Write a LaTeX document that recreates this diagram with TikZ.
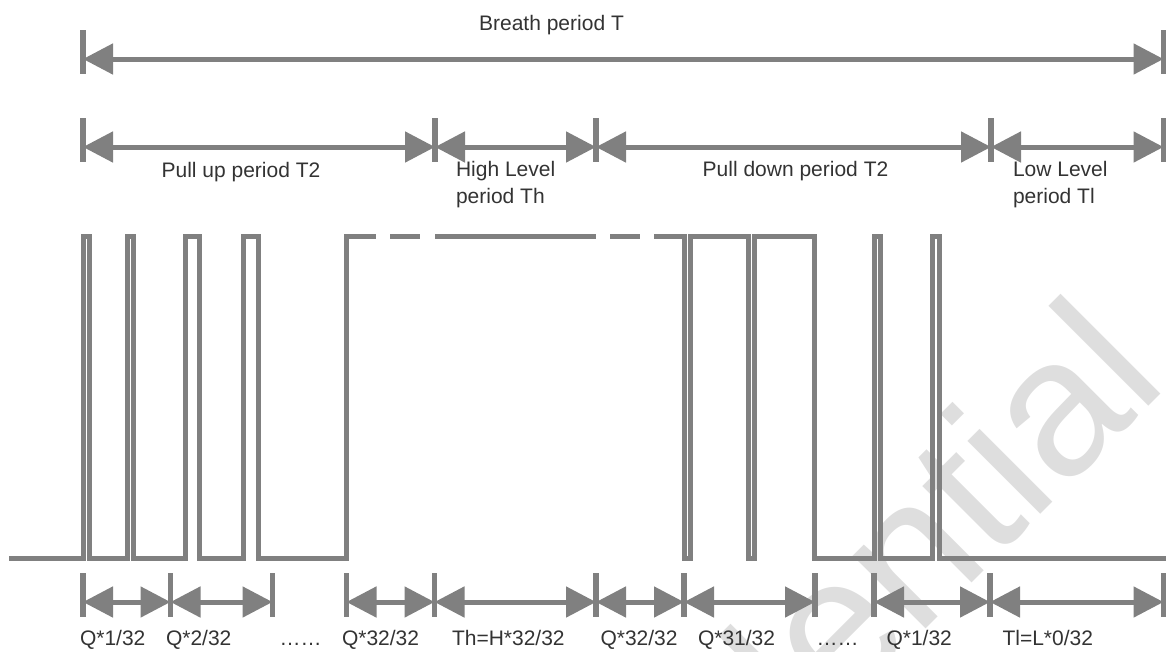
\documentclass[tikz,border=0pt]{standalone}
\usepackage{fontspec}
\setmainfont{Liberation Sans}
\usetikzlibrary{arrows.meta}
\definecolor{wave}{HTML}{808080}
\definecolor{txt}{HTML}{333333}
\definecolor{wm}{HTML}{DEDEDE}
\newcommand\dimtick[1]{\draw[tickline] ([yshift=29pt]#1) -- ([yshift=-15pt]#1);}
\begin{document}
\begin{tikzpicture}[x=1pt,y=-1pt,
  dimline/.style={draw=wave, line width=5pt,
    {Triangle[length=30pt,width=30pt]}-{Triangle[length=30pt,width=30pt]}},
  tickline/.style={draw=wave, line width=5.5pt},
  waveline/.style={draw=wave, line width=5pt, line join=miter},
  lbl/.style={text=txt, font=\fontsize{21}{27}\selectfont, inner sep=0pt, outer sep=0pt},
  wmtext/.style={text=wm, font=\fontsize{195}{200}\selectfont, inner sep=0pt, outer sep=0pt}]
\useasboundingbox (0,0) rectangle (1166,651);
% watermark
\begin{scope}
\clip (0,0) rectangle (1166,651);
\node[wmtext, rotate=45, anchor=base east] (wm) at (1170,385) {Confidential};
\end{scope}
% waveform
\draw[waveline] (9,558) -- (83.5,558) -- (83.5,236) -- (89.5,236) -- (89.5,558)
  -- (127,558) -- (127,236) -- (133.5,236) -- (133.5,558)
  -- (185.5,558) -- (185.5,236) -- (199.5,236) -- (199.5,558)
  -- (243.5,558) -- (243.5,236) -- (258.5,236) -- (258.5,558)
  -- (346.5,558) -- (346.5,236) -- (376,236)
  (390,236) -- (420,236)
  (435,236) -- (596,236)
  (610,236) -- (639.5,236)
  (654,236) -- (684.5,236) -- (684.5,558) -- (690,558) -- (690,236)
  -- (748.5,236) -- (748.5,558) -- (754.5,558) -- (754.5,236)
  -- (814.5,236) -- (814.5,558) -- (874,558) -- (874,236) -- (880,236) -- (880,558)
  -- (932.5,558) -- (932.5,236) -- (939.5,236) -- (939.5,558) -- (1166,558);
% row 1
\coordinate (r1a) at (83,59);
\coordinate (r1b) at (1163.5,59);
% row 2
\coordinate (r2a) at (83,147);
\coordinate (r2b) at (435,147);
\coordinate (r2c) at (596,147);
\coordinate (r2d) at (991,147);
\coordinate (r2e) at (1163.5,147);
% row 3
\coordinate (r3a) at (83,602);
\coordinate (r3b) at (170.5,602);
\coordinate (r3c) at (272.5,602);
\coordinate (r3d) at (346.5,602);
\coordinate (r3e) at (434.5,602);
\coordinate (r3f) at (596,602);
\coordinate (r3g) at (684,602);
\coordinate (r3h) at (815,602);
\coordinate (r3i) at (874,602);
\coordinate (r3j) at (990,602);
\coordinate (r3k) at (1163.5,602);
\foreach \c in {r1a,r1b,r2a,r2b,r2c,r2d,r2e,r3a,r3b,r3c,r3d,r3e,r3f,r3g,r3h,r3i,r3j,r3k}{\dimtick{\c}}
\draw[dimline] (r1a) -- (r1b);
\draw[dimline] (r2a) -- (r2b);
\draw[dimline] (r2b) -- (r2c);
\draw[dimline] (r2c) -- (r2d);
\draw[dimline] (r2d) -- (r2e);
\draw[dimline] (r3a) -- (r3b);
\draw[dimline] (r3b) -- (r3c);
\draw[dimline] (r3d) -- (r3e);
\draw[dimline] (r3e) -- (r3f);
\draw[dimline] (r3f) -- (r3g);
\draw[dimline] (r3g) -- (r3h);
\draw[dimline] (r3i) -- (r3j);
\draw[dimline] (r3j) -- (r3k);
% labels
\node[lbl, anchor=base] (tT) at (551.5,30) {Breath period T};
\node[lbl, anchor=base] (tpu) at (241,177) {Pull up period T2};
\node[lbl, anchor=base west] (thl1) at (456,176) {High Level};
\node[lbl, anchor=base west] (thl2) at (456,203) {period Th};
\node[lbl, anchor=base] (tpd) at (795.5,176) {Pull down period T2};
\node[lbl, anchor=base west] (tll1) at (1013,176) {Low Level};
\node[lbl, anchor=base west] (tll2) at (1013,203) {period Tl};
\node[lbl, anchor=base west] (b1) at (80,645) {Q*1/32};
\node[lbl, anchor=base west] (b2) at (166,645) {Q*2/32};
\node[lbl, anchor=base west] (b3) at (279.5,645) {……};
\node[lbl, anchor=base west] (b4) at (342,645) {Q*32/32};
\node[lbl, anchor=base west] (b5) at (452,645) {Th=H*32/32};
\node[lbl, anchor=base west] (b6) at (600.5,645) {Q*32/32};
\node[lbl, anchor=base west] (b7) at (698,645) {Q*31/32};
\node[lbl, anchor=base west] (b8) at (816.5,645) {……};
\node[lbl, anchor=base west] (b9) at (886.5,645) {Q*1/32};
\node[lbl, anchor=base west] (b10) at (1002.5,645) {Tl=L*0/32};
\end{tikzpicture}
\end{document}
